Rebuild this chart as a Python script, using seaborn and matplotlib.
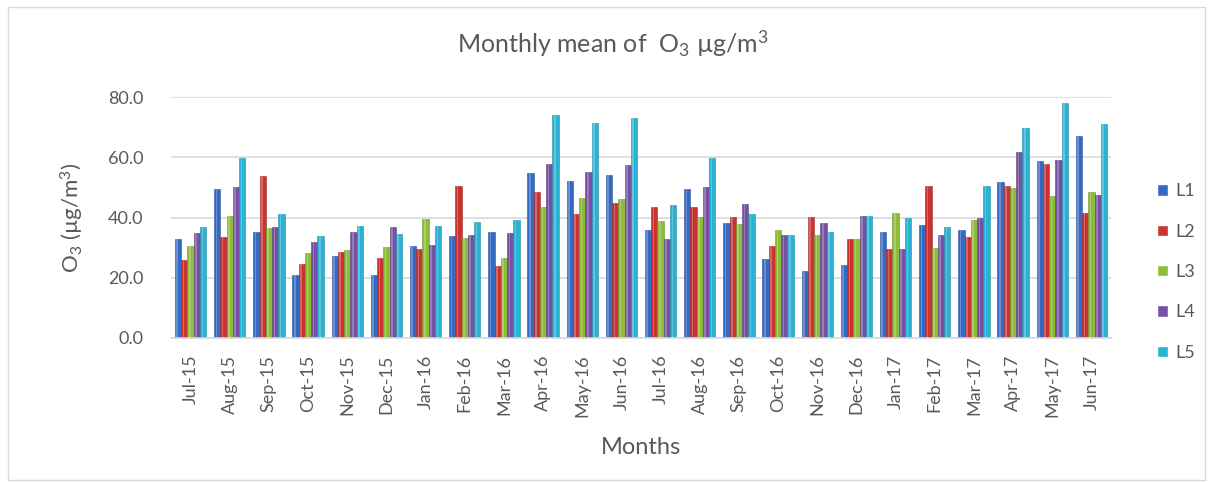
import numpy as np
import pandas as pd
import matplotlib
matplotlib.use("Agg")
import matplotlib.pyplot as plt
from matplotlib.patches import Rectangle
from matplotlib.ticker import FixedLocator, FormatStrFormatter
import seaborn as sns

months = ["Jul-15", "Aug-15", "Sep-15", "Oct-15", "Nov-15", "Dec-15",
          "Jan-16", "Feb-16", "Mar-16", "Apr-16", "May-16", "Jun-16",
          "Jul-16", "Aug-16", "Sep-16", "Oct-16", "Nov-16", "Dec-16",
          "Jan-17", "Feb-17", "Mar-17", "Apr-17", "May-17", "Jun-17"]

L1 = [32.7, 49.3, 35.1, 20.8, 27.1, 20.8, 30.5, 34.0, 35.1, 54.8, 52.0, 54.0,
      36.0, 49.3, 38.2, 26.2, 22.4, 24.1, 35.1, 37.4, 35.7, 51.7, 58.6, 67.0]
L2 = [26.0, 33.4, 53.9, 24.5, 28.6, 26.7, 29.6, 50.6, 23.8, 48.4, 41.1, 44.9,
      43.5, 43.5, 40.1, 30.7, 40.1, 33.0, 29.6, 50.6, 33.6, 50.3, 57.7, 41.5]
L3 = [30.5, 40.6, 36.4, 28.1, 29.2, 30.3, 39.5, 33.1, 26.7, 43.5, 46.4, 46.0,
      39.0, 40.1, 37.7, 35.8, 34.1, 32.8, 41.5, 29.8, 39.1, 49.9, 47.1, 48.4]
L4 = [34.9, 50.2, 36.8, 31.8, 35.3, 36.7, 30.9, 34.1, 34.7, 57.9, 55.0, 57.3,
      32.7, 50.2, 44.4, 34.1, 38.3, 40.4, 29.6, 34.1, 39.9, 61.6, 59.0, 47.6]
L5 = [36.9, 59.6, 41.0, 34.0, 37.1, 34.6, 37.1, 38.5, 39.3, 74.0, 71.5, 72.9,
      44.1, 59.6, 41.3, 34.1, 35.3, 40.5, 40.0, 36.8, 50.4, 69.8, 77.9, 71.2]

series = {"L1": L1, "L2": L2, "L3": L3, "L4": L4, "L5": L5}
palette = ["#3569C2", "#C93331", "#8DBB3A", "#7650A3", "#2BB2D3"]
yticks = [0, 20, 40, 60, 80]

df = pd.DataFrame(
    [(m, name, v) for name, vals in series.items() for m, v in zip(months, vals)],
    columns=["Month", "Site", "O3"],
)

sns.set_theme(style="white")
plt.rcParams["font.family"] = ["Lato", "DejaVu Sans"]
plt.rcParams["mathtext.fontset"] = "custom"
plt.rcParams["mathtext.rm"] = "Lato"
plt.rcParams["mathtext.it"] = "Lato:italic"
plt.rcParams["mathtext.bf"] = "Lato:bold"

text_color = "#595959"
grid_color = "#D9D9D9"

fig = plt.figure(figsize=(12.14, 4.82), dpi=100)
ax = fig.add_axes([171 / 1214, 1 - 338 / 482, 940 / 1214, 241 / 482])

sns.barplot(data=df, x="Month", y="O3", hue="Site", order=months,
            hue_order=list(series), palette=palette, width=0.8,
            saturation=1, ax=ax, legend=True)

# darker outline and lighter highlight stripe for a rounded look
for bar in ax.patches:
    if bar.get_height() <= 0:
        continue
    fc = np.array(matplotlib.colors.to_rgb(bar.get_facecolor()))
    bar.set_edgecolor(tuple(fc * 0.8))
    bar.set_linewidth(0.4)
    x0, w, h = bar.get_x(), bar.get_width(), bar.get_height()
    ax.add_patch(Rectangle((x0 + w * 0.25, 0), w * 0.25, h,
                           facecolor=tuple(fc + (1 - fc) * 0.25),
                           edgecolor="none", zorder=bar.get_zorder() + 0.1))

ax.set_ylim(0, 80)
ax.set_xlim(-0.5, len(months) - 0.5)
ax.yaxis.set_major_locator(FixedLocator(yticks))
ax.yaxis.set_major_formatter(FormatStrFormatter("%.1f"))
ax.grid(axis="y", color=grid_color, linewidth=1.2)
ax.set_axisbelow(True)

for s in ["top", "right", "left"]:
    ax.spines[s].set_visible(False)
ax.spines["bottom"].set_color(grid_color)
ax.spines["bottom"].set_linewidth(1.2)

ax.tick_params(axis="y", length=0, pad=20, labelsize=13, labelcolor=text_color)
ax.tick_params(axis="x", which="major", length=0, pad=12, labelsize=13,
               labelcolor=text_color, rotation=90)
ax.set_xticks(np.arange(-0.5, len(months), 1.0), minor=True)
ax.tick_params(axis="x", which="minor", length=5, color=grid_color, width=1.2)

ax.set_xlabel("")
ax.set_ylabel(r"O$_3$ (µg/m$^3$)", fontsize=16, color=text_color, labelpad=16)

fig.text(613 / 1214, 1 - 44 / 482, r"Monthly mean of  O$_3$ µg/m$^3$",
         ha="center", va="center", fontsize=18, color=text_color)
fig.text(641 / 1214, 1 - 447 / 482, "Months", ha="center", va="center",
         fontsize=17, color=text_color)

handles, labels = ax.get_legend_handles_labels()
ax.legend_.remove()
fig.legend(handles, labels, loc="upper left",
           bbox_to_anchor=(1150 / 1214, 1 - 176 / 482),
           frameon=False, fontsize=13, labelcolor=text_color,
           handlelength=0.6, handleheight=0.6, handletextpad=0.4,
           labelspacing=1.35, borderaxespad=0)

fig.add_artist(Rectangle((8 / 1214, 2 / 482), 1197 / 1214, 473 / 482,
                         transform=fig.transFigure, fill=False,
                         edgecolor="#D9D9D9", linewidth=1))

fig.savefig("out.png", dpi=100, facecolor="white")
